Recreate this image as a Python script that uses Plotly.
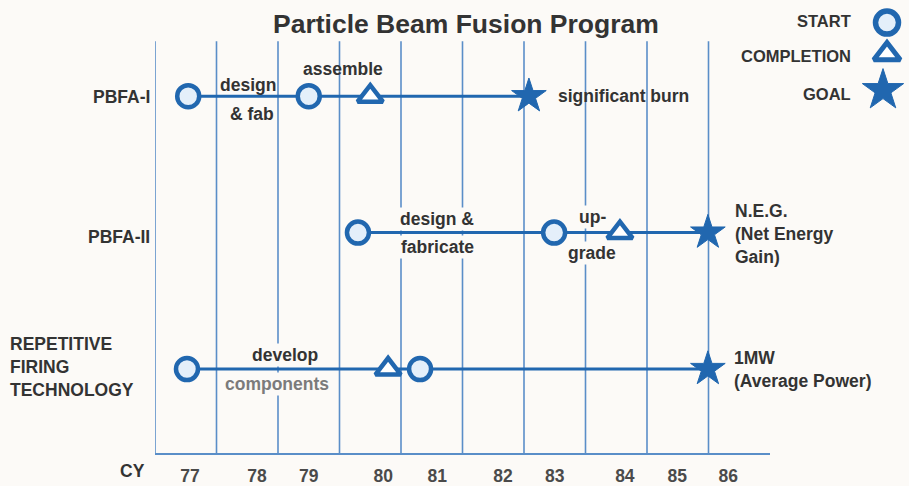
import plotly.graph_objects as go

# ---------------- data ----------------
row_names = ["PBFA-I", "PBFA-II", "REPETITIVE<br>FIRING<br>TECHNOLOGY"]
row_pos = [3, 2, 1]

# milestone positions (calendar year scale, CY77 .. CY86)
pbfa1_x = [77.54, 79.50, 80.50, 83.08]
pbfa1_kind = ["start", "start", "completion", "goal"]
pbfa2_x = [80.30, 83.49, 84.56, 85.99]
pbfa2_kind = ["start", "start", "completion", "goal"]
rft_x = [77.52, 80.79, 81.31, 85.99]
rft_kind = ["start", "completion", "start", "goal"]

grid_years = [77, 78, 79, 80, 81, 82, 83, 84, 85, 86]
cy_tick_pos = [77.57, 78.66, 79.50, 80.71, 81.59, 82.66, 83.50, 84.64, 85.49, 86.32]
cy_tick_text = ["77", "78", "79", "80", "81", "82", "83", "84", "85", "86"]

legend_kinds = ["start", "completion", "goal"]
legend_text = ["START", "COMPLETION", "GOAL"]

# ---------------- style ----------------
W, H = 909, 486
BG = "#fcfaf7"
BLUE = "#2167af"
GRID = "#5a8ec8"
TXT = "#333333"
FILL = "#e4effa"
FONT = "Liberation Sans, Arial, sans-serif"
FS = 17.5

symbol_of = {"start": "circle", "completion": "triangle-up", "goal": "star"}
size_of = {"start": 22, "completion": 22, "goal": 26}
color_of = {"start": FILL, "completion": "#ffffff", "goal": BLUE}
lw_of = {"start": 4.5, "completion": 4.5, "goal": 1}

X0, X1 = 155, 770   # plot area in pixels
Y0, Y1 = 42, 462

fig = go.Figure()

for xs, kinds, yv in [(pbfa1_x, pbfa1_kind, 3), (pbfa2_x, pbfa2_kind, 2), (rft_x, rft_kind, 1)]:
    fig.add_trace(go.Scatter(
        x=xs, y=[yv] * len(xs), mode="lines+markers",
        line=dict(color=BLUE, width=3),
        marker=dict(symbol=[symbol_of[k] for k in kinds],
                    size=[size_of[k] for k in kinds],
                    color=[color_of[k] for k in kinds],
                    opacity=1,
                    line=dict(color=BLUE, width=[lw_of[k] for k in kinds])),
        cliponaxis=False,
        showlegend=False, hoverinfo="skip", xaxis="x", yaxis="y"))

# legend keys (pixel frame)
fig.add_trace(go.Scatter(
    x=[887, 887, 883], y=[23, 55, 92], mode="markers",
    marker=dict(symbol=[symbol_of[k] for k in legend_kinds],
                size=[23, 23, 31],
                color=[color_of[k] for k in legend_kinds],
                opacity=1,
                line=dict(color=BLUE, width=[5.5, 5, 1])),
    cliponaxis=False,
    showlegend=False, hoverinfo="skip", xaxis="x2", yaxis="y2"))

shapes = []
for g in grid_years:
    shapes.append(dict(type="line", xref="x", yref="y domain", x0=g, x1=g, y0=0, y1=1,
                       line=dict(color=GRID, width=1.6), layer="below"))

ann = []
def px_text(x, y, text, size=FS, anchor="center", color=TXT, bg=None):
    d = dict(xref="x2", yref="y2", x=x, y=y, text="<b>%s</b>" % text,
             showarrow=False, xanchor=anchor, yanchor="middle",
             font=dict(family=FONT, size=size, color=color),
             align=anchor if anchor != "center" else "center")
    if bg:
        d["bgcolor"] = bg
    ann.append(d)

def data_text(x, row, shift, text, anchor="center", color=TXT, bg=None):
    d = dict(xref="x", yref="y", x=x, y=row, yshift=shift, text="<b>%s</b>" % text,
             showarrow=False, xanchor=anchor, yanchor="middle",
             font=dict(family=FONT, size=FS, color=color),
             align="left" if anchor == "left" else "center")
    if bg:
        d["bgcolor"] = bg
    ann.append(d)

# title
px_text(466, 24, "Particle Beam Fusion Program", size=26.5, color="#333333")
# legend text
for t, yy in zip(legend_text, [21, 57, 96]):
    px_text(853, yy, t, size=16.5, anchor="right")
# row labels
px_text(152, 99, row_names[0], anchor="right")
px_text(152, 241, row_names[1], anchor="right")
px_text(8, 374, row_names[2], anchor="left")
# CY label
px_text(132, 480, "CY")

# activity labels
data_text(78.51, 3, 11, "design")
data_text(78.58, 3, -18, "&amp; fab")
data_text(80.06, 3, 27, "assemble")
data_text(83.52, 3, 0, "significant burn", anchor="left")
data_text(81.59, 2, 14, "design &amp;", bg=BG)
data_text(81.60, 2, -14, "fabricate", bg=BG)
data_text(84.12, 2, 16, "up-", bg=BG)
data_text(84.11, 2, -20, "grade", bg=BG)
data_text(86.40, 2, -1, "N.E.G.<br>(Net Energy<br>Gain)", anchor="left")
data_text(79.11, 1, 14, "develop", bg=BG)
data_text(78.98, 1, -15, "components", color="#7b7b7b", bg=BG)
data_text(86.38, 1, 0, "1MW<br>(Average Power)", anchor="left")

fig.update_layout(
    width=W, height=H,
    margin=dict(l=0, r=0, t=0, b=0),
    paper_bgcolor=BG, plot_bgcolor="rgba(0,0,0,0)",
    showlegend=False,
    xaxis=dict(domain=[X0 / W, X1 / W], range=[77, 87], showgrid=False, zeroline=False,
               showline=True, linecolor=GRID, linewidth=2,
               tickmode="array", tickvals=cy_tick_pos,
               ticktext=["<b>%s</b>" % t for t in cy_tick_text],
               ticks="outside", ticklen=6, tickcolor="rgba(0,0,0,0)",
               tickfont=dict(family=FONT, size=FS, color="#4a4a4a"),
               fixedrange=True),
    yaxis=dict(domain=[(H - Y1) / H, (H - Y0) / H], range=[0.381, 3.403], visible=False,
               fixedrange=True),
    xaxis2=dict(domain=[0, 1], range=[0, W], visible=False, anchor="y2", fixedrange=True),
    yaxis2=dict(domain=[0, 1], range=[H, 0], visible=False, anchor="x2", fixedrange=True),
    shapes=shapes,
    annotations=ann,
)

fig.write_html("out.html", config={"displayModeBar": False},
               post_script="document.body.style.margin='0';document.body.style.overflow='hidden';")
